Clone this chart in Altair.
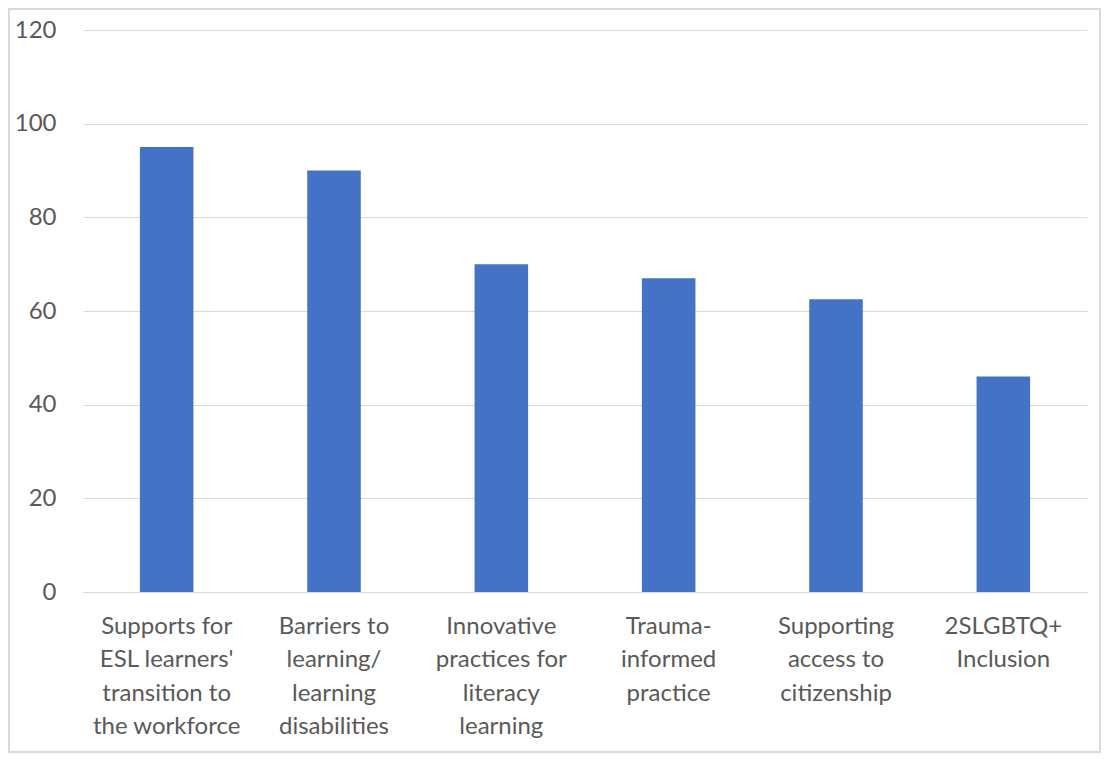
import altair as alt
import pandas as pd

categories = [
    "Supports for|ESL learners'|transition to|the workforce",
    "Barriers to|learning/|learning|disabilities",
    "Innovative|practices for|literacy|learning",
    "Trauma-|informed|practice",
    "Supporting|access to|citizenship",
    "2SLGBTQ+|Inclusion",
]
values = [95, 90, 70, 67, 62.5, 46]

df = pd.DataFrame({"topic": categories, "value": values})

FONT = "Lato"
TXT = "#595959"

bars = alt.Chart(df).mark_bar(color="#4472C4").encode(
    x=alt.X(
        "topic:N",
        sort=None,
        title=None,
        scale=alt.Scale(paddingInner=0.68, paddingOuter=0.34),
        axis=alt.Axis(
            labelExpr="split(datum.label, '|')",
            labelAngle=0,
            labelFont=FONT,
            labelFontSize=24,
            labelColor=TXT,
            labelLineHeight=33.5,
            labelPadding=22,
            labelBaseline="top",
            ticks=False,
            domain=True,
            domainColor="#D9D9D9",
            domainWidth=1,
            grid=False,
        ),
    ),
    y=alt.Y(
        "value:Q",
        title=None,
        scale=alt.Scale(domain=[0, 120], nice=False),
        axis=alt.Axis(
            values=[0, 20, 40, 60, 80, 100, 120],
            labelFont=FONT,
            labelFontSize=24,
            labelColor=TXT,
            labelPadding=27,
            ticks=False,
            domain=False,
            grid=True,
            gridColor="#D9D9D9",
            gridWidth=1,
        ),
    ),
)

frame = alt.Chart(df).mark_rect(fill=None, stroke="#D9D9D9", strokeWidth=1.5).encode(
    x=alt.value(-74), x2=alt.value(1017), y=alt.value(-21), y2=alt.value(722)
)

chart = alt.layer(frame, bars).properties(
    width=1004,
    height=562,
    autosize=alt.AutoSizeParams(type="none"),
    padding={"left": 75, "top": 22, "right": 14, "bottom": 161},
).configure(background="white").configure_view(strokeWidth=0)

chart.save("out.html", embed_options={"renderer": "svg", "actions": False})
